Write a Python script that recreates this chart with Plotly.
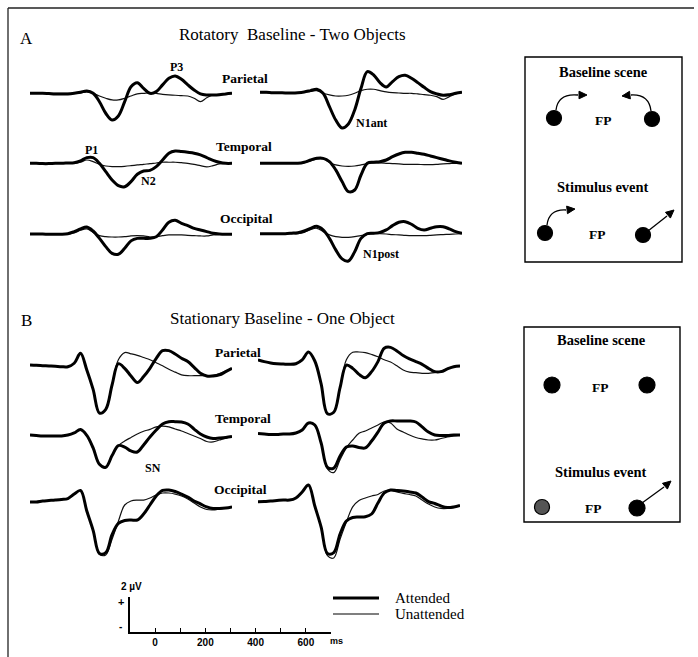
import math
import plotly.graph_objects as go

W, H = 698, 657

# ---------------- data (µV, positive up), sampled every 25 ms ----------------
time_ms = list(range(-100, 701, 25))
sites = ["Parietal", "Temporal", "Occipital"]

# Panel A: Rotatory baseline - two objects
A_par_L_att = [0,0,0,-0.02,-0.04,-0.04,-0.04,0,0.07,0.16,0,-0.56,-1.33,-1.78,-1.51,-0.56,0.44,0.71,0.33,0,0.11,0.56,1.0,1.16,0.93,0.56,0.22,-0.04,-0.11,-0.11,-0.09,-0.04,0]
A_par_L_un = [0,0,0,0,0,0,0,0,0.02,0.09,0,-0.18,-0.33,-0.44,-0.44,-0.33,-0.18,-0.04,0,0.04,0,-0.07,-0.11,-0.13,-0.16,-0.18,-0.33,-0.55,-0.3,-0.11,-0.07,-0.02,0]
A_par_R_att = [0.07,0.07,0.04,0.04,0.02,0.02,0.04,0.09,0.18,0.27,0,-0.89,-1.78,-2.31,-2.04,-1.11,0.33,1.44,1.22,0.71,0.42,0.78,1.11,1.2,1.0,0.71,0.4,0.11,-0.04,-0.13,-0.09,0,0.07]
A_par_R_un = [0.04,0.04,0.04,0.04,0.04,0.04,0.04,0.07,0.13,0.18,0,-0.11,-0.18,-0.18,-0.13,0,0.18,0.27,0.27,0.18,0.09,0.04,0.02,0,0,-0.04,-0.09,-0.13,-0.22,-0.4,-0.22,-0.04,0.07]
A_tem_L_att = [0,0,-0.02,-0.02,0,0,0.02,0.04,0.16,0.38,0.38,0,-0.56,-1.11,-1.49,-1.56,-1.22,-0.73,-0.51,-0.47,-0.22,0.22,0.67,0.82,0.78,0.73,0.67,0.56,0.38,0.2,0.07,0,0]
A_tem_L_un = [0,0,0,0,0,0,0,0,0.07,0.22,0.11,-0.07,-0.18,-0.22,-0.22,-0.2,-0.16,-0.11,-0.07,-0.02,0.02,0.07,0.07,0.07,0.04,0,-0.07,-0.16,-0.24,-0.16,-0.04,0,0]
A_tem_R_att = [0,0,0,0,0,0,0,0.07,0.22,0.33,0.33,0.11,-0.44,-1.22,-1.89,-1.78,-0.78,0,0.07,0.11,0.22,0.44,0.62,0.73,0.73,0.67,0.6,0.49,0.38,0.27,0.16,0.07,0]
A_tem_R_un = [0,0,0,0,0,0,0,0.04,0.16,0.29,0.29,0.07,-0.11,-0.18,-0.2,-0.18,-0.11,-0.02,0.02,0.02,0,-0.02,-0.04,-0.07,-0.07,-0.07,-0.09,-0.09,-0.07,-0.04,-0.02,0,0]
A_occ_L_att = [0.02,0.02,0.02,0,0,0,0.04,0.18,0.36,0.49,0.22,-0.27,-0.82,-1.27,-1.33,-0.93,-0.44,-0.27,-0.27,-0.27,-0.16,0.29,0.8,0.93,0.73,0.58,0.4,0.29,0.18,0.07,0.02,0,0]
A_occ_L_un = [0,0,0,0,0,0,0,0.09,0.27,0.36,0.13,-0.09,-0.16,-0.18,-0.18,-0.16,-0.11,-0.09,-0.11,-0.18,-0.16,-0.09,-0.04,-0.04,-0.04,-0.07,-0.09,-0.11,-0.11,-0.04,0,0,0]
A_occ_R_att = [0.04,0.04,0.04,0.04,0.04,0.07,0.11,0.22,0.4,0.53,0.29,-0.27,-1.04,-1.64,-1.78,-1.16,-0.27,0.04,0.07,0.13,0.29,0.58,0.8,0.84,0.67,0.4,0.29,0.4,0.51,0.51,0.36,0.18,0.07]
A_occ_R_un = [0.04,0.04,0.04,0.04,0.04,0.04,0.04,0.13,0.31,0.4,0.18,-0.04,-0.16,-0.2,-0.2,-0.16,-0.09,0,0.04,0.04,0.02,-0.02,-0.04,-0.07,-0.09,-0.09,-0.09,-0.07,-0.04,-0.02,0,0.02,0.04]

# Panel B: Stationary baseline - one object
B_par_L_att = [-0.04,-0.07,-0.09,-0.11,-0.13,-0.16,-0.16,0.07,0.73,-0.38,-1.67,-3.25,-3.0,-1.38,0.04,-0.27,-0.78,-1.22,-0.82,-0.27,0.4,0.91,0.91,0.69,0.4,0.18,-0.2,-0.6,-0.78,-0.78,-0.71,-0.49,-0.27]
B_par_L_un = [-0.04,-0.07,-0.09,-0.11,-0.13,-0.16,-0.16,0.07,0.73,-0.38,-1.67,-3.25,-3.0,-1.3,0.3,0.78,0.7,0.6,0.45,0.3,0.1,-0.1,-0.33,-0.52,-0.7,-0.76,-0.76,-0.76,-0.76,-0.74,-0.62,-0.45,-0.27]
B_par_R_att = [0.29,0.18,0.09,0.04,0.02,0,0.04,0.29,0.82,0.22,-1.31,-3.3,-3.2,-1.56,-0.05,-0.27,-0.67,-0.89,-0.49,0.18,1.07,1.13,0.89,0.58,0.36,0.18,0,-0.27,-0.49,-0.49,-0.31,-0.16,-0.11]
B_par_R_un = [0.29,0.18,0.09,0.04,0.02,0,0.04,0.29,0.82,0.22,-1.31,-3.3,-3.2,-1.56,0.3,0.8,0.82,0.78,0.65,0.5,0.3,0.15,-0.1,-0.38,-0.52,-0.56,-0.6,-0.6,-0.56,-0.45,-0.3,-0.16,-0.11]
B_tem_L_att = [-0.05,-0.08,-0.11,-0.11,-0.11,-0.11,-0.05,0.09,0.32,-0.07,-0.91,-2.0,-2.2,-1.42,-0.75,-0.85,-1.11,-1.18,-0.71,-0.18,0.29,0.69,0.84,0.84,0.82,0.69,0.35,0.02,-0.18,-0.28,-0.25,-0.21,-0.15]
B_tem_L_un = [-0.05,-0.08,-0.11,-0.11,-0.11,-0.11,-0.05,0.09,0.32,-0.07,-0.91,-2.0,-2.2,-1.42,-0.75,-0.45,-0.21,0.02,0.2,0.33,0.5,0.55,0.5,0.35,0.22,0.05,-0.11,-0.28,-0.48,-0.51,-0.38,-0.25,-0.15]
B_tem_R_att = [0.05,0.02,-0.01,-0.01,0.02,0.02,0.09,0.29,0.75,0.62,-0.58,-2.2,-2.25,-1.45,-0.85,-0.78,-0.88,-0.91,-0.45,0.15,0.75,0.89,0.89,0.89,0.89,0.82,0.49,0.15,-0.05,-0.08,-0.08,-0.05,-0.05]
B_tem_R_un = [0.05,0.02,-0.01,-0.01,0.02,0.02,0.09,0.29,0.75,0.62,-0.58,-2.3,-2.55,-1.7,-0.9,-0.38,0.07,0.22,0.42,0.62,0.82,0.75,0.35,0.15,-0.05,-0.21,-0.31,-0.38,-0.38,-0.28,-0.18,-0.11,-0.05]
B_occ_L_att = [-0.02,-0.02,0.05,0.08,0.11,0.15,0.21,0.51,0.75,-0.62,-1.91,-3.45,-3.4,-2.2,-1.45,-1.25,-1.22,-1.22,-0.82,-0.22,0.38,0.75,0.78,0.68,0.51,0.31,0.05,-0.15,-0.35,-0.45,-0.45,-0.42,-0.35]
B_occ_L_un = [-0.02,-0.02,0.05,0.08,0.11,0.15,0.21,0.51,0.75,-0.62,-1.91,-3.5,-3.55,-2.5,-1.3,-0.22,0.05,0.11,0.11,0.25,0.45,0.58,0.58,0.51,0.38,0.18,-0.09,-0.35,-0.52,-0.55,-0.49,-0.42,-0.35]
B_occ_R_att = [0,0.01,0.05,0.08,0.11,0.11,0.25,0.65,1.11,-0.29,-1.69,-3.45,-3.4,-2.15,-1.29,-1.05,-1.02,-1.0,-0.82,-0.09,0.58,0.78,0.75,0.71,0.65,0.58,0.31,0.01,-0.12,-0.29,-0.39,-0.35,-0.25]
B_occ_R_un = [0,0.01,0.05,0.08,0.11,0.11,0.25,0.65,1.11,-0.29,-1.69,-3.6,-3.75,-2.5,-1.35,-0.35,0.08,0.25,0.38,0.48,0.71,0.75,0.65,0.55,0.48,0.38,0.11,-0.15,-0.35,-0.45,-0.45,-0.39,-0.25]

scale_ticks_ms = [-100, 0, 100, 200, 300, 400, 500, 600, 700]
scale_tick_text = ["", "0", "", "200", "", "400", "", "600", ""]
legend_labels = ["Attended", "Unattended"]

# ---------------- layout geometry ----------------
def xp(x):
    return x / W

def yp(y):
    return 1 - y / H

SERIF = "Liberation Serif, Times New Roman, serif"
SANS = "Liberation Sans, Arial, sans-serif"
PX_PER_UV = 15.0
YR = 4.5

panels = [
    # (attended, unattended, x_left_px, baseline_px)
    (A_par_L_att, A_par_L_un, 30, 93.3), (A_par_R_att, A_par_R_un, 260, 93.3),
    (A_tem_L_att, A_tem_L_un, 30, 163.3), (A_tem_R_att, A_tem_R_un, 260, 163.3),
    (A_occ_L_att, A_occ_L_un, 30, 234.3), (A_occ_R_att, A_occ_R_un, 260, 234.3),
    (B_par_L_att, B_par_L_un, 30, 364.3), (B_par_R_att, B_par_R_un, 258, 364.3),
    (B_tem_L_att, B_tem_L_un, 30, 434.3), (B_tem_R_att, B_tem_R_un, 258, 434.3),
    (B_occ_L_att, B_occ_L_un, 30, 501.7), (B_occ_R_att, B_occ_R_un, 258, 501.7),
]

fig = go.Figure()
layout = {}
for i, (att, un, x0, yb) in enumerate(panels, start=1):
    half = YR * PX_PER_UV
    layout[f"xaxis{i}"] = dict(domain=[xp(x0), xp(x0 + 202)], range=[-100, 700],
                               visible=False, anchor=f"y{i}", fixedrange=True)
    layout[f"yaxis{i}"] = dict(domain=[yp(yb + half), yp(yb - half)], range=[-YR, YR],
                               visible=False, anchor=f"x{i}", fixedrange=True)
    fig.add_trace(go.Scatter(x=time_ms, y=un, xaxis=f"x{i}", yaxis=f"y{i}", mode="lines",
                             line=dict(color="#111", width=1.2, shape="spline", smoothing=1.0),
                             showlegend=False, hoverinfo="skip"))
    fig.add_trace(go.Scatter(x=time_ms, y=att, xaxis=f"x{i}", yaxis=f"y{i}", mode="lines",
                             line=dict(color="#000", width=3.0, shape="spline", smoothing=1.0),
                             showlegend=False, hoverinfo="skip"))

# scale bar axis
n = len(panels) + 1
layout[f"xaxis{n}"] = dict(domain=[xp(130), xp(331)], range=[-100, 700], anchor=f"y{n}",
                           showline=True, linecolor="#000", linewidth=1.6, showgrid=False,
                           zeroline=False, ticks="inside", ticklen=4, tickwidth=1.3, tickcolor="#000",
                           tickvals=scale_ticks_ms, ticktext=[f"<b>{t}</b>" if t else "" for t in scale_tick_text],
                           tickfont=dict(family=SANS, size=10, color="#000"), fixedrange=True)
layout[f"yaxis{n}"] = dict(domain=[yp(632), yp(597)], range=[0, 2.33], anchor=f"x{n}",
                           showline=True, linecolor="#000", linewidth=1.6, showgrid=False,
                           zeroline=False, ticks="inside", ticklen=4, tickwidth=1.3, tickcolor="#000",
                           tickvals=[2.33], showticklabels=False, fixedrange=True)
fig.add_trace(go.Scatter(x=[None], y=[None], xaxis=f"x{n}", yaxis=f"y{n}", showlegend=False))

# ---------------- annotations ----------------
ann = []
def text(s, x, y, size=13, bold=True, family=SERIF, xanchor="center"):
    ann.append(dict(text=(f"<b>{s}</b>" if bold else s), x=xp(x), y=yp(y), xref="paper", yref="paper",
                    showarrow=False, xanchor=xanchor, yanchor="middle",
                    font=dict(family=family, size=size, color="#000")))

text("A", 26, 39, size=17, bold=False)
text("Rotatory  Baseline - Two Objects", 292, 34, size=17, bold=False)
text("P3", 176, 67, size=12)
text(sites[0], 245, 79, size=13.5)
text("N1ant", 371, 123, size=12)
text("P1", 92, 150, size=12)
text(sites[1], 244, 147, size=13.5)
text("N2", 148, 181, size=12)
text(sites[2], 246, 219, size=13.5)
text("N1post", 381, 254, size=12)

text("B", 26, 320, size=17, bold=False)
text("Stationary Baseline - One Object", 282, 318, size=17, bold=False)
text(sites[0], 238, 352, size=13.5)
text(sites[1], 243, 418, size=13.5)
text("SN", 153, 468, size=12)
text(sites[2], 241, 489, size=13.5)

# scale bar labels
text("2 µV", 131, 586, size=10, family=SANS)
text("+", 121, 602, size=11, family=SANS)
text("-", 121, 626, size=10, family=SANS)
text("ms", 336, 641, size=9, family=SANS)

# legend
text(legend_labels[0], 393, 598, size=15, bold=False, xanchor="left")
text(legend_labels[1], 393, 614, size=15, bold=False, xanchor="left")

# boxes text
text("Baseline scene", 603, 72, size=14.5)
text("FP", 603, 120, size=13.5)
text("Stimulus event", 603, 187, size=14.5)
text("FP", 597, 234, size=13.5)
text("Baseline scene", 601, 340, size=14.5)
text("FP", 600, 387, size=13.5)
text("Stimulus event", 601, 472, size=14.5)
text("FP", 593, 508, size=13.5)

# ---------------- shapes (frame, legend glyphs, schematic boxes) ----------------
shapes = []
def line(x0, y0, x1, y1, w=1.4, color="#000"):
    shapes.append(dict(type="line", xref="paper", yref="paper", x0=xp(x0), y0=yp(y0), x1=xp(x1), y1=yp(y1),
                       line=dict(color=color, width=w)))

def rect(x0, y0, x1, y1, w=1.4):
    shapes.append(dict(type="rect", xref="paper", yref="paper", x0=xp(x0), y0=yp(y1), x1=xp(x1), y1=yp(y0),
                       line=dict(color="#000", width=w), fillcolor="rgba(0,0,0,0)"))

def ball(cx, cy, r=7.5, fill="#000"):
    shapes.append(dict(type="circle", xref="paper", yref="paper", x0=xp(cx - r), x1=xp(cx + r),
                       y0=yp(cy + r), y1=yp(cy - r), line=dict(color="#000", width=1.2), fillcolor=fill))

def P(x, y):
    return f"{xp(x):.5f},{yp(y):.5f}"

def curve(p0, c, p1):
    shapes.append(dict(type="path", xref="paper", yref="paper",
                       path=f"M {P(*p0)} Q {P(*c)} {P(*p1)}", line=dict(color="#000", width=1.3)))

def head(tip, frm, L=8, hw=3.8):
    dx, dy = tip[0] - frm[0], tip[1] - frm[1]
    d = math.hypot(dx, dy)
    ux, uy = dx / d, dy / d
    bx, by = tip[0] - ux * L, tip[1] - uy * L
    a = (bx - uy * hw, by + ux * hw)
    b = (bx + uy * hw, by - ux * hw)
    shapes.append(dict(type="path", xref="paper", yref="paper",
                       path=f"M {P(*tip)} L {P(*a)} L {P(*b)} Z", fillcolor="#000",
                       line=dict(color="#000", width=1)))

# outer frame (left and top edges)
line(8, 8, 8, 657, w=1.3, color="#222")
line(8, 8, 694, 8, w=1.3, color="#222")

# legend glyphs
line(333, 598, 379, 598, w=3.0)
line(333, 614, 379, 614, w=1.2)

# box A
rect(525, 57, 682, 262)
ball(554, 118); ball(652, 119)
curve((556, 110), (558, 93), (578, 95)); head((587, 95), (578, 95))
curve((651, 111), (649, 94), (631, 95)); head((622, 96), (631, 95))
ball(545, 233); ball(643, 235)
curve((547, 225), (549, 209), (566, 210)); head((575, 209), (566, 210))
line(648, 231, 667, 216, w=1.3); head((674, 210), (667, 216))

# box B
rect(524, 327, 680, 522)
ball(552, 385, r=8); ball(647, 385, r=8)
ball(542, 507, r=7.5, fill="#555"); ball(637, 508, r=8)
line(642, 503, 664, 487, w=1.3); head((671, 481), (664, 487))

fig.update_layout(
    width=W, height=H, margin=dict(l=0, r=0, t=0, b=0),
    paper_bgcolor="white", plot_bgcolor="rgba(0,0,0,0)",
    showlegend=False, annotations=ann, shapes=shapes, **layout,
)
fig.write_html("out.html")
